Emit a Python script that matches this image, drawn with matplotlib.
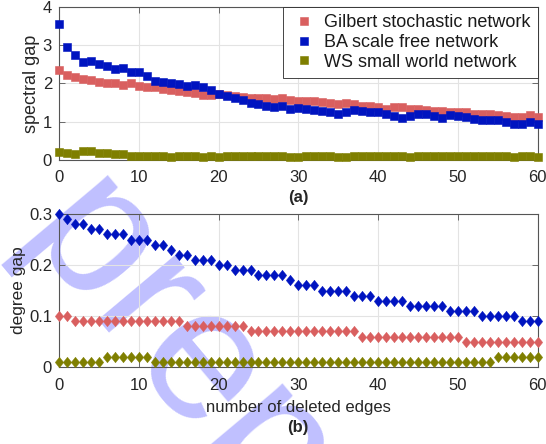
import numpy as np
import matplotlib
matplotlib.use("Agg")
import matplotlib.pyplot as plt
from matplotlib.path import Path

plt.rcParams['font.family'] = ['Liberation Sans', 'DejaVu Sans']

# number of deleted edges
edges = list(range(61))

# (a) spectral gap
gilbert_sg = [2.34, 2.23, 2.17, 2.11, 2.08, 2.04, 2.02, 2.01, 1.97, 2.00,
              1.94, 1.90, 1.90, 1.86, 1.83, 1.81, 1.78, 1.76, 1.71, 1.69,
              1.72, 1.70, 1.67, 1.65, 1.63, 1.63, 1.62, 1.60, 1.63, 1.57,
              1.55, 1.55, 1.55, 1.51, 1.48, 1.46, 1.48, 1.45, 1.41, 1.40,
              1.38, 1.33, 1.38, 1.38, 1.34, 1.33, 1.30, 1.28, 1.27, 1.25,
              1.26, 1.24, 1.21, 1.19, 1.21, 1.17, 1.15, 1.11, 1.13, 1.17,
              1.13]
ba_sg = [3.55, 2.96, 2.75, 2.57, 2.59, 2.50, 2.46, 2.38, 2.41, 2.29,
         2.29, 2.19, 2.07, 2.04, 2.00, 1.98, 1.94, 1.96, 1.92, 1.83,
         1.73, 1.66, 1.62, 1.56, 1.48, 1.45, 1.40, 1.38, 1.40, 1.33,
         1.35, 1.34, 1.31, 1.28, 1.26, 1.21, 1.26, 1.31, 1.27, 1.26,
         1.25, 1.20, 1.15, 1.10, 1.15, 1.21, 1.19, 1.14, 1.10, 1.17,
         1.14, 1.11, 1.07, 1.05, 1.05, 1.04, 0.98, 0.94, 0.94, 0.98,
         0.94]
ws_sg = [0.20, 0.17, 0.16, 0.22, 0.23, 0.19, 0.17, 0.16, 0.16, 0.11,
         0.09, 0.10, 0.09, 0.09, 0.08, 0.10, 0.10, 0.09, 0.08, 0.09,
         0.08, 0.09, 0.10, 0.10, 0.11, 0.11, 0.10, 0.09, 0.09, 0.08,
         0.07, 0.09, 0.09, 0.10, 0.09, 0.08, 0.08, 0.09, 0.10, 0.09,
         0.09, 0.10, 0.11, 0.10, 0.08, 0.09, 0.09, 0.10, 0.10, 0.09,
         0.10, 0.09, 0.11, 0.11, 0.11, 0.10, 0.09, 0.07, 0.09, 0.09,
         0.08]

# (b) degree gap
gilbert_dg = [0.10, 0.10] + [0.09] * 14 + [0.08] * 8 + [0.07] * 14 + [0.06] * 13 + [0.05] * 10
ba_dg = [0.30, 0.29, 0.28, 0.28, 0.27, 0.27, 0.26, 0.26, 0.26, 0.25,
         0.25, 0.25, 0.24, 0.24, 0.23, 0.22, 0.22, 0.21, 0.21, 0.21,
         0.20, 0.20, 0.19, 0.19, 0.19, 0.18, 0.18, 0.18, 0.18, 0.17,
         0.16, 0.16, 0.16, 0.15, 0.15, 0.15, 0.15, 0.14, 0.14, 0.14,
         0.13, 0.13, 0.13, 0.13, 0.12, 0.12, 0.12, 0.12, 0.12, 0.11,
         0.11, 0.11, 0.11, 0.10, 0.10, 0.10, 0.10, 0.10, 0.09, 0.09,
         0.09]
ws_dg = [0.01] * 6 + [0.02] * 6 + [0.01] * 43 + [0.02] * 6

labels = ['Gilbert stochastic network', 'BA scale free network', 'WS small world network']
colors = ['#d95f5f', '#0014c0', '#7f7f00']

# MATLAB-like diamond (taller than wide)
diamond = Path([(0, 1), (0.8, 0), (0, -1), (-0.8, 0), (0, 1)],
               [Path.MOVETO, Path.LINETO, Path.LINETO, Path.LINETO, Path.CLOSEPOLY])

fig = plt.figure(figsize=(5.46, 4.44), dpi=100)

# watermark behind everything
fig.text(0.033, 0.461, 'preprint', rotation=-50, rotation_mode='anchor',
         ha='left', va='baseline', fontsize=136, color='#c0c0ff', zorder=-5)

ax1 = fig.add_axes([0.108, 0.640, 0.877, 0.344])
ax2 = fig.add_axes([0.108, 0.173, 0.877, 0.345])

for ys, c, lab in zip([gilbert_sg, ba_sg, ws_sg], colors, labels):
    ax1.plot(edges, ys, 's', color=c, ms=5.4, mew=0.4, mec=c, label=lab, clip_on=False, zorder=3)
for ys, c in zip([gilbert_dg, ba_dg, ws_dg], colors):
    ax2.plot(edges, ys, linestyle='none', marker=diamond, color=c, ms=7.6, mew=0.3, mec=c,
             clip_on=False, zorder=3)

ax1.set_ylim(0, 4)
ax1.set_yticks([0, 1, 2, 3, 4])
ax2.set_ylim(0, 0.3)
ax2.set_yticks([0, 0.1, 0.2, 0.3])
ax2.set_yticklabels(['0', '0.1', '0.2', '0.3'])

for ax in (ax1, ax2):
    ax.set_facecolor('none')
    ax.set_xlim(0, 60)
    ax.set_xticks(range(0, 61, 10))
    ax.grid(True, color='#e3e3e3', linewidth=0.8)
    ax.set_axisbelow(True)
    for sp in ax.spines.values():
        sp.set_color('#555555')
        sp.set_linewidth(0.8)
    ax.tick_params(direction='in', length=4, width=0.6, color='#555555',
                   top=True, right=True, labelsize=12, labelcolor='#262626', pad=5)
    ax.tick_params(axis='x', pad=7.5)

ax1.set_ylabel('spectral gap', fontsize=13, color='#262626', labelpad=2)
ax2.set_ylabel('degree gap', fontsize=12.5, color='#262626', labelpad=2)
ax2.set_xlabel('number of deleted edges', fontsize=12, color='#262626', labelpad=5)

fig.text(0.546, 0.556, '(a)', ha='center', va='center', fontsize=12, fontweight='bold', color='#262626')
fig.text(0.546, 0.038, '(b)', ha='center', va='center', fontsize=12, fontweight='bold', color='#262626')

leg = ax1.legend(loc='upper right', borderaxespad=0, fontsize=13, frameon=True, fancybox=False,
                 framealpha=1, edgecolor='#262626', handlelength=1.6, handletextpad=0.3,
                 labelspacing=0.15, borderpad=0.4, numpoints=1)
leg.get_frame().set_linewidth(0.6)
for t in leg.get_texts():
    t.set_color('#1a1a1a')

fig.savefig('out.png', dpi=100)
